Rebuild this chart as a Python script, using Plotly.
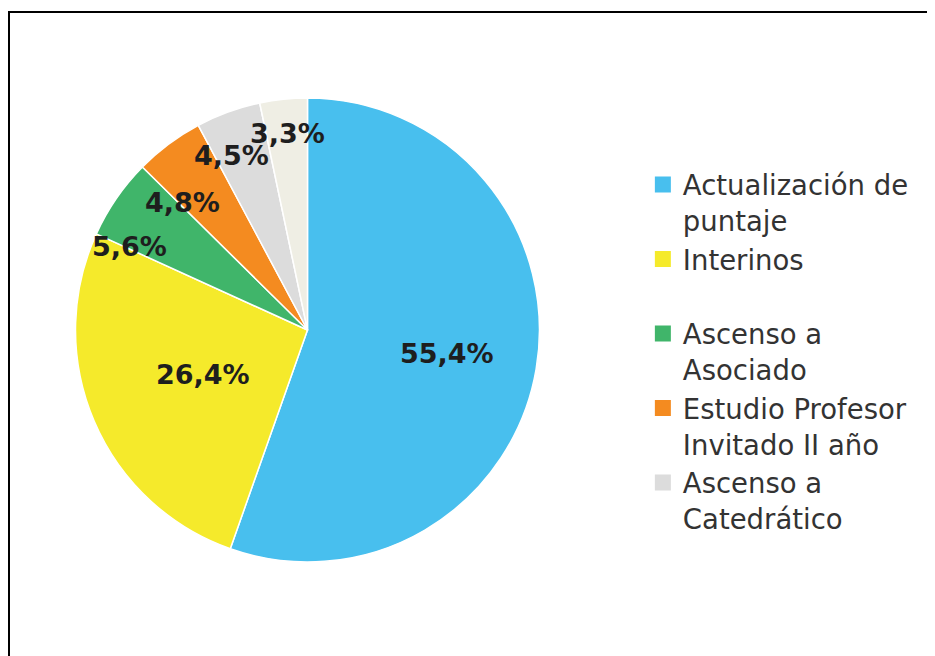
import numpy as np
import plotly.graph_objects as go

# slice data (clockwise from 12 o'clock)
labels = ["Actualización de puntaje", "Interinos", "Ascenso a Asociado",
          "Estudio Profesor Invitado II año", "Ascenso a Catedrático", "Otros"]
values = [55.4, 26.4, 5.6, 4.8, 4.5, 3.3]
colors = ["#48bfee", "#f5ea2b", "#40b56a", "#f48b20", "#dcdcdc", "#efeee4"]

# legend texts (the reference legend shows only five entries)
legend_text = ["Actualización de<br>puntaje", "Interinos<br> ", "Ascenso a<br>Asociado",
               "Estudio Profesor<br>Invitado II año", "Ascenso a<br>Catedrático"]

# label placement: fraction of radius and small angle nudge (degrees)
label_r = [0.61, 0.49, 0.845, 0.767, 0.823, 0.85]
label_nudge = [0, 0, -9.5, -7.7, -3.6, 0]

W, H = 935, 656
dom_x = [0.0722, 0.5684]
dom_y = [0.1555, 0.8628]

fig = go.Figure()

fig.add_trace(go.Pie(
    labels=labels,
    values=values,
    sort=False,
    direction="clockwise",
    rotation=0,
    marker=dict(colors=colors, line=dict(color="white", width=1.5)),
    textinfo="none",
    hoverinfo="label+percent",
    showlegend=False,
    domain=dict(x=dom_x, y=dom_y),
))

# percentage labels around the middle angle of each slice
v = np.array(values)
mid = (np.cumsum(v) - v / 2) / v.sum() * 2 * np.pi + np.radians(label_nudge)
cx, cy = sum(dom_x) / 2, sum(dom_y) / 2
rx = (dom_x[1] - dom_x[0]) / 2
ry = (dom_y[1] - dom_y[0]) / 2
for val, a, rf in zip(values, mid, label_r):
    fig.add_annotation(
        x=cx + rf * rx * np.sin(a), y=cy + rf * ry * np.cos(a),
        xref="paper", yref="paper", showarrow=False,
        xanchor="center", yanchor="middle",
        text=f"{val:.1f}%".replace(".", ","),
        font=dict(family="DejaVu Sans", size=27, color="#1e1e1e", weight="bold"),
    )

# dummy traces to draw the legend
for txt, col in zip(legend_text, colors):
    fig.add_trace(go.Scatter(
        x=[None], y=[None], mode="markers", name=txt,
        marker=dict(symbol="square", size=16, color=col),
    ))

fig.update_layout(
    width=W, height=H,
    margin=dict(l=0, r=0, t=0, b=0),
    paper_bgcolor="white",
    plot_bgcolor="white",
    xaxis=dict(visible=False),
    yaxis=dict(visible=False),
    legend=dict(
        x=0.679, y=0.768, xanchor="left", yanchor="top",
        valign="top",
        font=dict(family="DejaVu Sans", size=27.5, color="#333333"),
        itemclick=False,
    ),
    shapes=[dict(type="rect", xref="paper", yref="paper",
                 x0=1 / W, x1=1.05, y0=-0.05, y1=1 - 4 / H,
                 line=dict(color="black", width=2))],
)

fig.write_html("out.html")
